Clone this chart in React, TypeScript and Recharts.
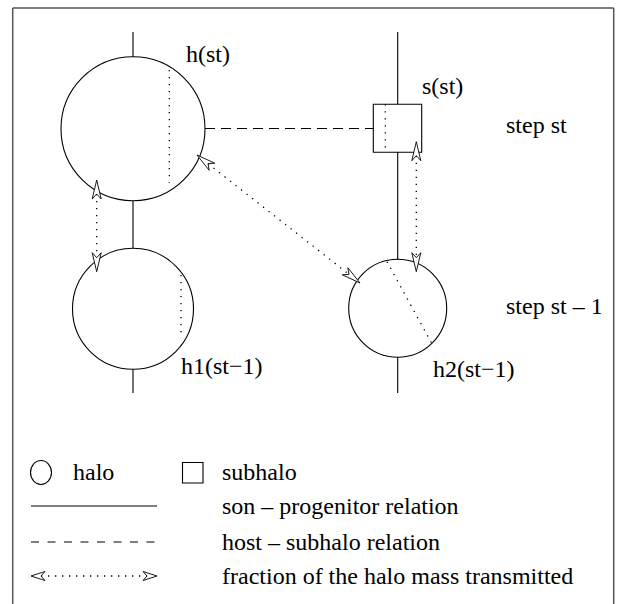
import React from 'react';
import { ScatterChart, Scatter, XAxis, YAxis, ReferenceLine, ReferenceArea } from 'recharts';

// Diagram coordinates (y grows downward)
const halos = [
  { id: 'h(st)', cx: 133, cy: 128.7, r: 72 },
  { id: 'h1(st-1)', cx: 133, cy: 308.8, r: 60.5 },
  { id: 'h2(st-1)', cx: 397.7, cy: 308.3, r: 49 },
];
const subhalos = [{ id: 's(st)', x1: 373.3, x2: 421.7, y1: 104.3, y2: 152.3 }];

const progenitorLinks = [
  [{ x: 133, y: 32 }, { x: 133, y: 57 }],
  [{ x: 133, y: 201 }, { x: 133, y: 248 }],
  [{ x: 133, y: 369 }, { x: 133, y: 393 }],
  [{ x: 397.7, y: 32 }, { x: 397.7, y: 104 }],
  [{ x: 397.7, y: 152 }, { x: 397.7, y: 260 }],
  [{ x: 397.7, y: 357 }, { x: 397.7, y: 393 }],
];
const hostLinks = [[{ x: 205, y: 128.5 }, { x: 373.3, y: 128.5 }]];
const massFractions = [
  [{ x: 169.3, y: 70 }, { x: 169.3, y: 182.7 }],
  [{ x: 181, y: 275 }, { x: 181, y: 336.7 }],
  [{ x: 385.3, y: 104.3 }, { x: 385.3, y: 152.3 }],
  [{ x: 387, y: 261.7 }, { x: 431.7, y: 343.3 }],
];
const transfers = [
  [{ x: 96.7, y: 180 }, { x: 96.7, y: 271.7 }],
  [{ x: 416.3, y: 141.7 }, { x: 416.3, y: 271.7 }],
  [{ x: 197, y: 155 }, { x: 360, y: 283 }],
];
const labels = [
  { x: 186, y: 62, label: 'h(st)' },
  { x: 422, y: 94, label: 's(st)' },
  { x: 506, y: 133, label: 'step st' },
  { x: 506, y: 314, label: 'step st \u2013 1' },
  { x: 181, y: 374, label: 'h1(st\u22121)' },
  { x: 433, y: 376.7, label: 'h2(st\u22121)' },
  { x: 73, y: 480, label: 'halo' },
  { x: 222, y: 480, label: 'subhalo' },
  { x: 222, y: 514, label: 'son \u2013 progenitor relation' },
  { x: 222, y: 550, label: 'host \u2013 subhalo relation' },
  { x: 222, y: 584, label: 'fraction of the halo mass transmitted' },
];
const legendHalo = { x1: 30.5, x2: 51.5, y1: 460.5, y2: 484.5 };
const legendSubhalo = { x1: 182.5, x2: 203, y1: 462.5, y2: 483 };
const legendSolid = [{ x: 31, y: 506 }, { x: 157, y: 506 }];
const legendDashed = [{ x: 31, y: 542 }, { x: 157, y: 542 }];
const legendArrow = [{ x: 31, y: 576 }, { x: 157, y: 576 }];
const frame = [
  [{ x: 12.7, y: 8 }, { x: 12.7, y: 604 }],
  [{ x: 12.7, y: 8 }, { x: 613.7, y: 8 }],
  [{ x: 613.7, y: 8 }, { x: 613.7, y: 604 }],
];

const FONT = 'Liberation Serif, Times New Roman, Times, serif';

const ellipseShape = (p: any) => {
  const x = Math.min(p.x, p.x + p.width);
  const y = Math.min(p.y, p.y + p.height);
  const w = Math.abs(p.width);
  const h = Math.abs(p.height);
  return <ellipse cx={x + w / 2} cy={y + h / 2} rx={w / 2} ry={h / 2} fill="none" stroke="#000" strokeWidth={1.1} />;
};

const makeArrow = (len: number, half: number, notch: number) => (p: any) => {
  const { x1, y1, x2, y2 } = p;
  const dx = x2 - x1;
  const dy = y2 - y1;
  const d = Math.sqrt(dx * dx + dy * dy) || 1;
  const ux = dx / d;
  const uy = dy / d;
  const nx = -uy;
  const ny = ux;
  const head = (tx: number, ty: number, sx: number, sy: number) => {
    const pts = [
      [tx, ty],
      [tx + sx * len + nx * half, ty + sy * len + ny * half],
      [tx + sx * notch, ty + sy * notch],
      [tx + sx * len - nx * half, ty + sy * len - ny * half],
    ]
      .map((q) => q.join(','))
      .join(' ');
    return <polygon points={pts} fill="#fff" stroke="#000" strokeWidth={0.9} strokeLinejoin="miter" />;
  };
  return (
    <g>
      <line
        x1={x1 + ux * notch}
        y1={y1 + uy * notch}
        x2={x2 - ux * notch}
        y2={y2 - uy * notch}
        stroke="#000"
        strokeWidth={1.3}
        strokeDasharray="1.3 5.7"
      />
      {head(x1, y1, ux, uy)}
      {head(x2, y2, -ux, -uy)}
    </g>
  );
};
const bigArrow = makeArrow(19, 4.5, 14);
const smallArrow = makeArrow(14, 4.5, 10);

const labelShape = (p: any) => (
  <text x={p.cx} y={p.cy} style={{ fontFamily: FONT }} fontSize={24} fill="#000">
    {p.payload.label}
  </text>
);

export default function App() {
  return (
    <div style={{ position: 'absolute', left: 0, top: 0, width: 622, height: 604, background: '#fff' }}>
      <ScatterChart width={622} height={604} margin={{ top: 0, right: 0, bottom: 0, left: 0 }}>
        <XAxis type="number" dataKey="x" domain={[0, 622]} hide allowDataOverflow />
        <YAxis type="number" dataKey="y" domain={[0, 604]} reversed hide allowDataOverflow />
        {frame.map((s, i) => (
          <ReferenceLine key={'f' + i} segment={s} stroke="#555" strokeWidth={1.5} ifOverflow="visible" />
        ))}
        {halos.map((h) => (
          <ReferenceArea
            key={h.id}
            x1={h.cx - h.r}
            x2={h.cx + h.r}
            y1={h.cy - h.r}
            y2={h.cy + h.r}
            shape={ellipseShape}
            ifOverflow="visible"
          />
        ))}
        <ReferenceArea {...legendHalo} shape={ellipseShape} ifOverflow="visible" />
        {subhalos.map((s) => (
          <ReferenceArea key={s.id} x1={s.x1} x2={s.x2} y1={s.y1} y2={s.y2} fill="none" fillOpacity={0} stroke="#000" strokeWidth={1.1} ifOverflow="visible" />
        ))}
        <ReferenceArea {...legendSubhalo} fill="none" fillOpacity={0} stroke="#000" strokeWidth={1.1} ifOverflow="visible" />
        {progenitorLinks.map((s, i) => (
          <ReferenceLine key={'p' + i} segment={s} stroke="#000" strokeWidth={1.1} ifOverflow="visible" />
        ))}
        <ReferenceLine segment={legendSolid} stroke="#000" strokeWidth={1.1} ifOverflow="visible" />
        {hostLinks.map((s, i) => (
          <ReferenceLine key={'hl' + i} segment={s} stroke="#000" strokeWidth={1.1} strokeDasharray="10 6" ifOverflow="visible" />
        ))}
        <ReferenceLine segment={legendDashed} stroke="#000" strokeWidth={1.1} strokeDasharray="8 8.5" ifOverflow="visible" />
        {massFractions.map((s, i) => (
          <ReferenceLine key={'m' + i} segment={s} stroke="#000" strokeWidth={1.3} strokeDasharray="1.3 5.7" ifOverflow="visible" />
        ))}
        {transfers.map((s, i) => (
          <ReferenceLine key={'t' + i} segment={s} stroke="#000" ifOverflow="visible" shape={bigArrow} />
        ))}
        <ReferenceLine segment={legendArrow} stroke="#000" ifOverflow="visible" shape={smallArrow} />
        <Scatter data={labels} isAnimationActive={false} shape={labelShape} />
      </ScatterChart>
    </div>
  );
}
